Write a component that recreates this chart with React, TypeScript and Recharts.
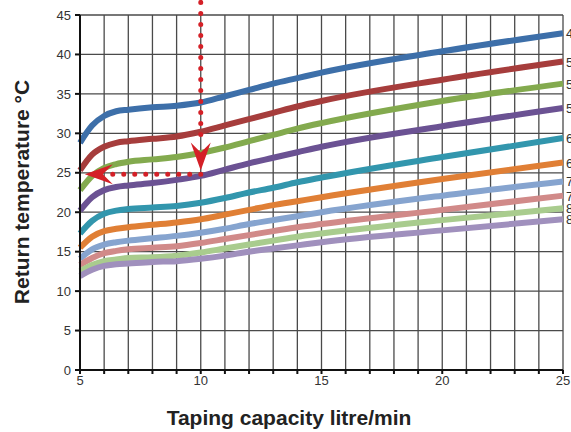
import { CartesianGrid, LabelList, Line, LineChart, ReferenceDot, ReferenceLine, XAxis, YAxis } from "recharts";

const flow = [5, 5.5, 6, 6.5, 7, 8, 9, 10, 11, 12, 13, 14, 15, 20, 25];

const t45 = [28.8, 31.0, 32.2, 32.8, 33.0, 33.3, 33.5, 33.9, 34.7, 35.5, 36.3, 37.0, 37.7, 40.4, 42.7];
const t50 = [25.3, 27.3, 28.3, 28.8, 29.0, 29.3, 29.6, 30.2, 31.0, 31.8, 32.6, 33.4, 34.1, 36.8, 39.1];
const t52 = [22.8, 24.6, 25.6, 26.1, 26.4, 26.7, 27.0, 27.5, 28.2, 29.0, 29.8, 30.6, 31.3, 34.1, 36.3];
const t55 = [20.2, 21.9, 22.8, 23.2, 23.4, 23.7, 24.1, 24.6, 25.4, 26.2, 26.9, 27.6, 28.3, 30.9, 33.2];
const t60 = [17.3, 18.9, 19.8, 20.2, 20.4, 20.6, 20.8, 21.2, 21.8, 22.5, 23.1, 23.8, 24.4, 27.0, 29.4];
const t65 = [15.5, 16.9, 17.6, 17.9, 18.1, 18.4, 18.7, 19.1, 19.7, 20.3, 20.9, 21.4, 21.9, 24.2, 26.3];
const t70 = [14.1, 15.3, 15.9, 16.2, 16.4, 16.7, 17.0, 17.4, 17.9, 18.5, 19.0, 19.5, 20.0, 22.1, 23.9];
const t75 = [13.3, 14.2, 14.8, 15.1, 15.3, 15.5, 15.7, 16.1, 16.6, 17.1, 17.6, 18.1, 18.5, 20.3, 22.1];
const t80 = [12.5, 13.3, 13.8, 14.0, 14.2, 14.3, 14.5, 14.9, 15.4, 15.9, 16.4, 16.9, 17.3, 19.0, 20.5];
const t85 = [11.9, 12.7, 13.2, 13.4, 13.5, 13.7, 13.8, 14.1, 14.5, 15.0, 15.4, 15.8, 16.2, 17.7, 19.1];

const curveNames = ["45", "50", "52", "55", "60", "65", "70", "75", "80", "85"];
const curveValues = [t45, t50, t52, t55, t60, t65, t70, t75, t80, t85];
const colors = ["#3d6fa9", "#a63d3c", "#83aa4e", "#6b5293", "#3296ad", "#e07f35", "#86a4cf", "#d18a89", "#a9cc8e", "#a090bd"];

const xTicks = [5, 6, 7, 8, 9, 10, 11, 12, 13, 14, 15, 16, 17, 18, 19, 20, 21, 22, 23, 24, 25];
const yTicks = [0, 5, 10, 15, 20, 25, 30, 35, 40, 45];

// example reading: 10 l/min on the 55 curve gives ~25 °C
const readFlow = 10;
const readTemp = 24.8;

const data = flow.map((x, i) => {
  const row: Record<string, number> = { x };
  curveNames.forEach((n, k) => (row[n] = curveValues[k][i]));
  return row;
});

const red = "#d42027";
const font = "'Liberation Sans', Arial, sans-serif";

export default function App() {
  const last = flow.length - 1;
  return (
    <div style={{ position: "absolute", left: 0, top: 0, width: 571, height: 432, background: "#fff", fontFamily: font }}>
      <LineChart width={571} height={432} data={data} margin={{ top: 15, right: 8, bottom: 32, left: 0 }}>
        <CartesianGrid stroke="#4a4a4a" strokeWidth={1.3} />
        <XAxis
          dataKey="x"
          type="number"
          domain={[5, 25]}
          ticks={xTicks}
          interval={0}
          tickFormatter={(v: number) => (v % 5 === 0 ? String(v) : "")}
          height={30}
          stroke="#111"
          strokeWidth={2}
          tickSize={4}
          tick={{ fill: "#333", fontSize: 13, fontFamily: font }}
        />
        <YAxis
          type="number"
          domain={[0, 45]}
          ticks={yTicks}
          interval={0}
          width={80}
          stroke="#111"
          strokeWidth={2}
          tickSize={5}
          tickMargin={4}
          tick={{ fill: "#333", fontSize: 13, fontFamily: font }}
        />
        {curveNames.map((n, k) => (
          <Line
            key={n}
            dataKey={n}
            type="monotone"
            stroke={colors[k]}
            strokeWidth={6}
            dot={false}
            isAnimationActive={false}
          >
            <LabelList
              dataKey={n}
              content={(p: any) =>
                p.index === last ? (
                  <text x={p.x + 3} y={p.y + 5} fontSize={13} fill="#333" fontFamily={font}>
                    {n}
                  </text>
                ) : null
              }
            />
          </Line>
        ))}
        <ReferenceLine
          segment={[{ x: readFlow, y: 46.6 }, { x: readFlow, y: 29.2 }]}
          ifOverflow="visible"
          stroke={red}
          strokeWidth={5}
          strokeDasharray="0 11"
          strokeLinecap="round"
        />
        <ReferenceLine
          segment={[{ x: readFlow, y: readTemp }, { x: 6.3, y: readTemp }]}
          ifOverflow="visible"
          stroke={red}
          strokeWidth={5}
          strokeDasharray="0 11"
          strokeLinecap="round"
        />
        <ReferenceDot
          x={readFlow}
          y={25.3}
          ifOverflow="visible"
          shape={(p: any) => (
            <path d={`M${p.cx},${p.cy} L${p.cx - 10},${p.cy - 28} L${p.cx},${p.cy - 18} L${p.cx + 10},${p.cy - 28} Z`} fill={red} />
          )}
        />
        <ReferenceDot
          x={5.2}
          y={readTemp}
          ifOverflow="visible"
          shape={(p: any) => (
            <path d={`M${p.cx},${p.cy} L${p.cx + 28},${p.cy - 10} L${p.cx + 18},${p.cy} L${p.cx + 28},${p.cy + 10} Z`} fill={red} />
          )}
        />
      </LineChart>
      <div
        style={{
          position: "absolute",
          left: 22,
          top: 192,
          transform: "translate(-50%, -50%) rotate(-90deg)",
          whiteSpace: "nowrap",
          fontSize: 21,
          fontWeight: "bold",
          color: "#222",
        }}
      >
        Return temperature °C
      </div>
      <div
        style={{
          position: "absolute",
          left: 289,
          top: 418,
          transform: "translate(-50%, -50%)",
          whiteSpace: "nowrap",
          fontSize: 21,
          fontWeight: "bold",
          color: "#222",
        }}
      >
        Taping capacity litre/min
      </div>
    </div>
  );
}
